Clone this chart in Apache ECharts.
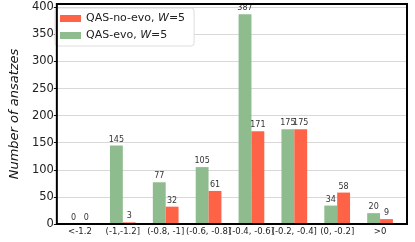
<!DOCTYPE html>
<html><head><meta charset="utf-8">
<script src="https://cdn.jsdelivr.net/npm/echarts@6/dist/echarts.min.js"></script>
<style>html,body{margin:0;padding:0;background:#fff}#c{width:415px;height:242px}</style>
</head><body><div id="c"></div>
<script>
const categories = ['<-1.2', '(-1,-1.2]', '(-0.8, -1]', '(-0.6, -0.8]', '(-0.4, -0.6]', '(-0.2, -0.4]', '(0, -0.2]', '>0'];
const evoValues = [0, 145, 77, 105, 387, 175, 34, 20];
const noEvoValues = [0, 3, 32, 61, 171, 175, 58, 9];
const yTicks = [0, 50, 100, 150, 200, 250, 300, 350, 400];
const yMax = 406;

const font = 'DejaVu Sans';
const chart = echarts.init(document.getElementById('c'), null, {renderer: 'canvas'});
const legendFmt = name => {
  const base = name.replace(', W=5', '');
  return '{a|' + base + ', }{i|W}{a|=5}';
};
chart.setOption({
  animation: false,
  grid: [
    {left: 50, top: 4, width: 357, bottom: 18, show: true, borderColor: '#000', borderWidth: 2, backgroundColor: 'transparent', z: 5},
    {left: 58.5, top: 4, width: 343, bottom: 18}
  ],
  xAxis: [
    {gridIndex: 0, type: 'value', min: 0, max: 1, show: false},
    {gridIndex: 1, type: 'category', data: categories,
     axisLine: {show: false}, axisTick: {show: false},
     axisLabel: {interval: 0, fontFamily: font, fontSize: 8.5, color: '#222', margin: 3}}
  ],
  yAxis: [
    {gridIndex: 0, type: 'value', min: 0, max: yMax, interval: 50,
     axisLine: {show: false},
     axisTick: {show: true, inside: false, length: 3, lineStyle: {color: '#111'}},
     axisLabel: {showMaxLabel: false, fontFamily: font, fontSize: 11.5, color: '#222', margin: 3,
       formatter: v => yTicks.includes(v) ? String(v) : ''},
     splitLine: {show: true, lineStyle: {color: '#d8d8d8', width: 1}},
     name: 'Number of ansatzes', nameLocation: 'middle', nameGap: 27,
     nameTextStyle: {fontFamily: font, fontSize: 13, fontStyle: 'italic', color: '#111'}},
    {gridIndex: 1, type: 'value', min: 0, max: yMax, show: false, splitLine: {show: false}}
  ],
  legend: {
    left: 55, top: 8, orient: 'vertical',
    data: ['QAS-no-evo, W=5', 'QAS-evo, W=5'],
    backgroundColor: '#fff', borderColor: '#ddd', borderWidth: 1, borderRadius: 3,
    padding: [5, 9, 5, 5], itemGap: 6, itemWidth: 21, itemHeight: 7,
    icon: 'rect',
    formatter: legendFmt,
    textStyle: {
      fontFamily: font, fontSize: 11, color: '#222',
      rich: {
        a: {fontFamily: font, fontSize: 11, color: '#222'},
        i: {fontFamily: font, fontSize: 11, color: '#222', fontStyle: 'italic'}
      }
    }
  },
  series: [
    {name: 'QAS-evo, W=5', type: 'bar', xAxisIndex: 1, yAxisIndex: 1, data: evoValues,
     barGap: '0%', barCategoryGap: '40%', itemStyle: {color: '#8fbc8f'},
     label: {show: true, position: 'top', distance: 2, fontFamily: font, fontSize: 8, color: '#333'}},
    {name: 'QAS-no-evo, W=5', type: 'bar', xAxisIndex: 1, yAxisIndex: 1, data: noEvoValues,
     barGap: '0%', barCategoryGap: '40%', itemStyle: {color: '#ff6347'},
     label: {show: true, position: 'top', distance: 2, fontFamily: font, fontSize: 8, color: '#333'}}
  ]
});
</script></body></html>
